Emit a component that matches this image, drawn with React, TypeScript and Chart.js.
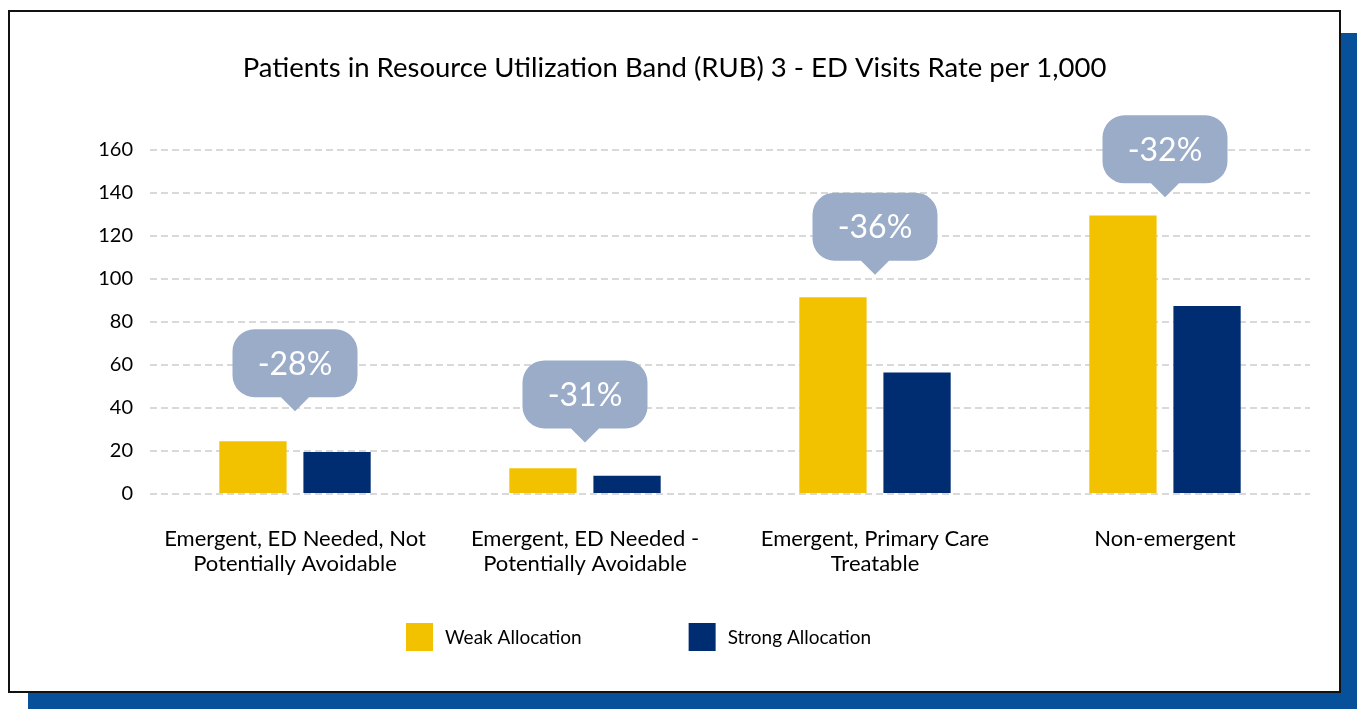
import React, { useEffect, useRef } from 'react';
import { Chart, registerables } from 'chart.js';

Chart.register(...registerables);

const chartTitle = 'Patients in Resource Utilization Band (RUB) 3 - ED Visits Rate per 1,000';
const categories: (string | string[])[] = [
  ['Emergent, ED Needed, Not', 'Potentially Avoidable'],
  ['Emergent, ED Needed -', 'Potentially Avoidable'],
  ['Emergent, Primary Care', 'Treatable'],
  'Non-emergent',
];
const weakAllocation = [24.5, 12, 91.5, 129.5];
const strongAllocation = [19.5, 8.5, 56.5, 87.5];
const changeLabels = ['-28%', '-31%', '-36%', '-32%'];
const changeAnchors = [38.5, 24, 102, 138];
const yMin = 0;
const yMax = 160;
const yStep = 20;

const FONT = 'Lato, "Open Sans", "DejaVu Sans", sans-serif';

const calloutPlugin = {
  id: 'callouts',
  afterDatasetsDraw(chart: any) {
    const { ctx, scales } = chart;
    const x = scales.x;
    const y = scales.y;
    ctx.save();
    changeLabels.forEach((lab, i) => {
      const cx = x.getPixelForValue(i);
      const tipY = y.getPixelForValue(changeAnchors[i]);
      const w = 125, h = 68, r = 22, ph = 14, pw = 28;
      const bottom = tipY - ph;
      const top = bottom - h;
      const left = cx - w / 2;
      const right = cx + w / 2;
      ctx.beginPath();
      ctx.moveTo(left + r, top);
      ctx.lineTo(right - r, top);
      ctx.arcTo(right, top, right, top + r, r);
      ctx.lineTo(right, bottom - r);
      ctx.arcTo(right, bottom, right - r, bottom, r);
      ctx.lineTo(cx + pw / 2, bottom);
      ctx.lineTo(cx, tipY);
      ctx.lineTo(cx - pw / 2, bottom);
      ctx.lineTo(left + r, bottom);
      ctx.arcTo(left, bottom, left, bottom - r, r);
      ctx.lineTo(left, top + r);
      ctx.arcTo(left, top, left + r, top, r);
      ctx.closePath();
      ctx.fillStyle = '#9AACC8';
      ctx.fill();
      ctx.fillStyle = '#FFFFFF';
      ctx.font = `32px ${FONT}`;
      ctx.textAlign = 'center';
      ctx.textBaseline = 'middle';
      ctx.fillText(lab, cx, top + h / 2 + 1);
    });
    ctx.restore();
  },
};

const legendPlugin = {
  id: 'squareLegend',
  afterDraw(chart: any) {
    const ctx = chart.ctx;
    const opts = chart.options.plugins.squareLegend || {};
    let x = opts.x ?? 396;
    const yc = opts.y ?? 625;
    ctx.save();
    ctx.font = `19px ${FONT}`;
    ctx.textAlign = 'left';
    ctx.textBaseline = 'middle';
    chart.data.datasets.forEach((ds: any) => {
      ctx.fillStyle = ds.backgroundColor;
      ctx.fillRect(x, yc - 14, 27, 28);
      ctx.fillStyle = '#000000';
      ctx.fillText(ds.label, x + 39, yc + 1);
      x += 39 + ctx.measureText(ds.label).width + 107;
    });
    ctx.restore();
  },
};

export default function App() {
  const canvasRef = useRef<HTMLCanvasElement | null>(null);

  useEffect(() => {
    if (!canvasRef.current) return;
    const chart = new Chart(canvasRef.current, {
      type: 'bar',
      data: {
        labels: categories,
        datasets: [
          {
            label: 'Weak Allocation',
            data: weakAllocation,
            backgroundColor: '#F2C200',
            categoryPercentage: 0.58,
            barPercentage: 0.8,
          },
          {
            label: 'Strong Allocation',
            data: strongAllocation,
            backgroundColor: '#002D72',
            categoryPercentage: 0.58,
            barPercentage: 0.8,
          },
        ],
      },
      options: {
        animation: false,
        responsive: false,
        maintainAspectRatio: false,
        layout: { padding: 0 },
        plugins: {
          legend: { display: false },
          tooltip: { enabled: false },
          title: {
            display: true,
            text: chartTitle,
            color: '#000000',
            font: { family: FONT, size: 27.5, weight: 'normal', lineHeight: 1.2 },
            padding: { top: 39.5, bottom: 65.5 },
          },
          squareLegend: { x: 396, y: 625 },
        } as any,
        scales: {
          x: {
            grid: { display: false },
            border: { display: false },
            ticks: {
              color: '#000000',
              font: { family: FONT, size: 22, lineHeight: 1.14 },
              padding: 24,
              maxRotation: 0,
              autoSkip: false,
            },
            afterFit: (scale: any) => {
              scale.height = 197;
            },
          },
          y: {
            min: yMin,
            max: yMax,
            grid: { color: '#D9D9D9', lineWidth: 2, drawTicks: false },
            border: { display: false, dash: [7, 4] },
            ticks: {
              stepSize: yStep,
              color: '#000000',
              font: { family: FONT, size: 20 },
              padding: 17,
            },
            afterFit: (scale: any) => {
              scale.width = 140;
            },
          },
          yRight: {
            position: 'right',
            min: yMin,
            max: yMax,
            grid: { display: false },
            border: { display: false },
            ticks: { display: false },
            afterFit: (scale: any) => {
              scale.width = 29;
            },
          },
        },
      },
      plugins: [calloutPlugin, legendPlugin],
    });
    return () => chart.destroy();
  }, []);

  return (
    <div style={{ position: 'fixed', left: 0, top: 0, width: 1357, height: 709, overflow: 'hidden', background: '#FFFFFF' }}>
      <div style={{ position: 'absolute', left: 28, top: 33, width: 1329, height: 676, background: '#07519A' }} />
      <div
        style={{
          position: 'absolute',
          left: 8,
          top: 10,
          width: 1333,
          height: 683,
          border: '2px solid #111111',
          boxSizing: 'border-box',
          background: '#FFFFFF',
        }}
      >
        <canvas ref={canvasRef} width={1329} height={679} style={{ display: 'block', width: 1329, height: 679 }} />
      </div>
    </div>
  );
}
